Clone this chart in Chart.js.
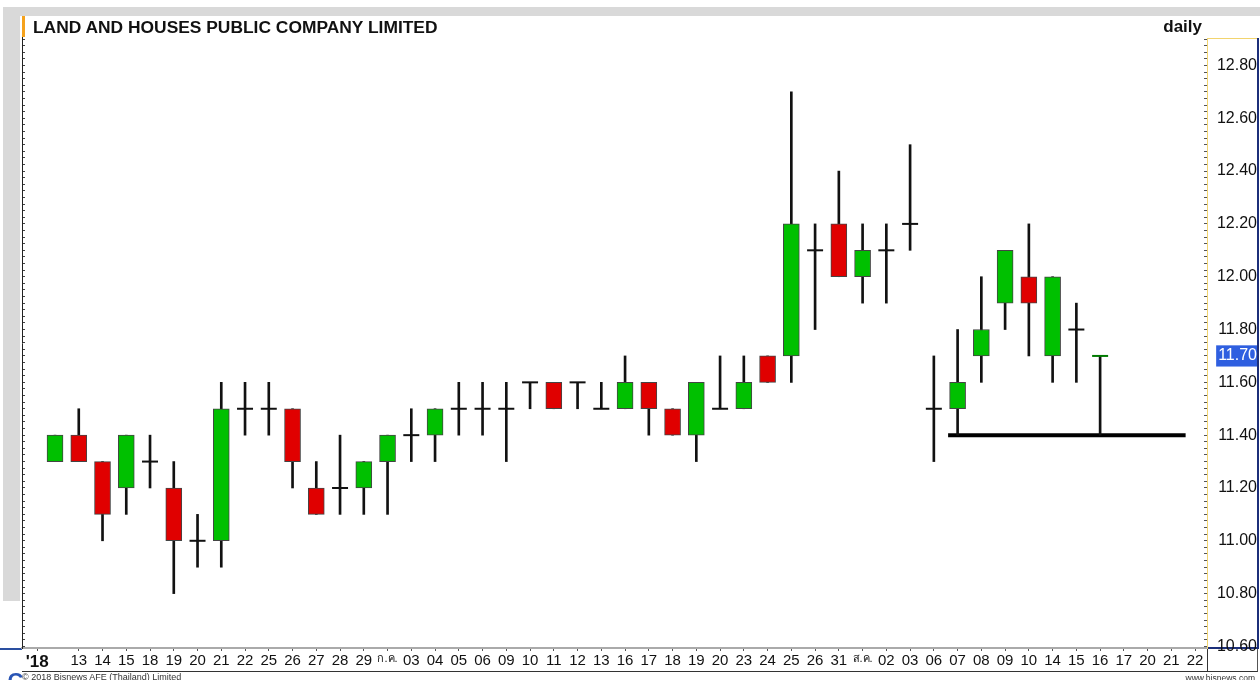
<!DOCTYPE html>
<html>
<head>
<meta charset="utf-8">
<script src="https://cdn.jsdelivr.net/npm/chart.js@4.4.0/dist/chart.umd.min.js"></script>
<style>
  html, body { margin: 0; padding: 0; background: #fff; overflow: hidden; }
  #wrap { position: relative; width: 1260px; height: 680px; font-family: "Liberation Sans", Arial, sans-serif; }
  #wrap div { position: absolute; }
  canvas { position: absolute; left: 0; top: 0; z-index: 1; }
  .band { background: #d9d9d9; }
  .txt { z-index: 2; color: #111; white-space: nowrap; }
</style>
</head>
<body>
<div id="wrap">
  <div class="band" style="left:3px;top:7px;width:1257px;height:9px"></div>
  <div class="band" style="left:3px;top:7px;width:17px;height:594px"></div>
  <div style="left:22px;top:16px;width:1px;height:23px;background:#222"></div>
  <div style="left:22px;top:16px;width:3px;height:21px;background:#f5a21c;z-index:2"></div>
  <div class="txt" style="left:33px;top:17px;font-weight:bold;font-size:17.4px">LAND AND HOUSES PUBLIC COMPANY LIMITED</div>
  <div class="txt" style="right:58px;top:17px;font-weight:bold;font-size:17px">daily</div>
  <div style="left:1207px;top:38px;width:50px;height:1px;background:#f2d46e"></div>
  <div style="left:1257px;top:38px;width:2px;height:611px;background:#1c2f7a"></div>
  <div style="left:1207px;top:647px;width:52px;height:2px;background:#1c2f7a"></div>
  <div style="left:1207px;top:649px;width:49px;height:22px;border-left:1px solid #333;border-right:1px solid #555;border-bottom:1px solid #333"></div>
  <div style="left:22px;top:671px;width:1185px;height:1px;background:#333"></div>
  <div style="left:0;top:648px;width:22px;height:2px;background:#2a4fa0"></div>
  <div class="txt" style="left:-6px;top:668px;font-size:22px;font-weight:bold;color:#2a55b5">LC</div>
  <div class="txt" style="left:22px;top:672px;font-size:9px;color:#333">© 2018 Bisnews AFE (Thailand) Limited</div>
  <div class="txt" style="right:5px;top:673px;font-size:8.5px;color:#333">www.bisnews.com</div>
  <canvas id="chart" width="1260" height="680"></canvas>
</div>
<script>
const tickLabels = ["'18", '13', '14', '15', '18', '19', '20', '21', '22', '25', '26', '27', '28', '29', 'ก.ค.',
  '03', '04', '05', '06', '09', '10', '11', '12', '13', '16', '17', '18', '19', '20', '23', '24', '25', '26', '31',
  'ส.ค.', '02', '03', '06', '07', '08', '09', '10', '14', '15', '16', '17', '20', '21', '22'];

const open = [11.30, 11.40, 11.30, 11.20, 11.30, 11.20, 11.00, 11.00, 11.50, 11.50, 11.50, 11.20, 11.20, 11.20, 11.30,
  11.40, 11.40, 11.50, 11.50, 11.50, 11.60, 11.60, 11.60, 11.50, 11.50, 11.60, 11.50, 11.40, 11.50, 11.50, 11.70,
  11.70, 12.10, 12.20, 12.00, 12.10, 12.20, 11.50, 11.50, 11.70, 11.90, 12.00, 11.70, 11.80, 11.70, null, null, null, null];
const high = [11.40, 11.50, 11.30, 11.40, 11.40, 11.30, 11.10, 11.60, 11.60, 11.60, 11.50, 11.30, 11.40, 11.30, 11.40,
  11.50, 11.50, 11.60, 11.60, 11.60, 11.60, 11.60, 11.60, 11.60, 11.70, 11.60, 11.50, 11.60, 11.70, 11.70, 11.70,
  12.70, 12.20, 12.40, 12.20, 12.20, 12.50, 11.70, 11.80, 12.00, 12.10, 12.20, 12.00, 11.90, 11.70, null, null, null, null];
const low = [11.30, 11.30, 11.00, 11.10, 11.20, 10.80, 10.90, 10.90, 11.40, 11.40, 11.20, 11.10, 11.10, 11.10, 11.10,
  11.30, 11.30, 11.40, 11.40, 11.30, 11.50, 11.50, 11.50, 11.50, 11.50, 11.40, 11.40, 11.30, 11.50, 11.50, 11.60,
  11.60, 11.80, 12.00, 11.90, 11.90, 12.10, 11.30, 11.40, 11.60, 11.80, 11.70, 11.60, 11.60, 11.40, null, null, null, null];
const close = [11.40, 11.30, 11.10, 11.40, 11.30, 11.00, 11.00, 11.50, 11.50, 11.50, 11.30, 11.10, 11.20, 11.30, 11.40,
  11.40, 11.50, 11.50, 11.50, 11.50, 11.60, 11.50, 11.60, 11.50, 11.60, 11.50, 11.40, 11.60, 11.50, 11.60, 11.60,
  12.20, 12.10, 12.00, 12.10, 12.10, 12.20, 11.50, 11.60, 11.80, 12.10, 11.90, 12.00, 11.80, 11.70, null, null, null, null];

const priceTicks = [10.60, 10.80, 11.00, 11.20, 11.40, 11.60, 11.80, 12.00, 12.20, 12.40, 12.60, 12.80];
const lastPrice = 11.70;
const supportLine = [{ x: 37.6, y: 11.40 }, { x: 47.6, y: 11.40 }];

const FONT = '"Liberation Sans", Arial, sans-serif';
const Y_MIN = 10.594, Y_MAX = 12.904;

const days = tickLabels.map((_, i) => i).filter(i => open[i] !== null);
const lastDay = days[days.length - 1];

const wicks = days.map(i => ({ x: i, y: [low[i], high[i]] }));
const bodies = days.filter(i => open[i] !== close[i])
  .map(i => ({ x: i, y: [Math.min(open[i], close[i]), Math.max(open[i], close[i])] }));
const bodyColors = days.filter(i => open[i] !== close[i])
  .map(i => close[i] > open[i] ? '#00c000' : '#e00000');
const dojiDays = days.filter(i => open[i] === close[i]);
const dojis = dojiDays.map(i => ({ x: i, y: close[i] }));
const dojiColors = dojiDays.map(i => i === lastDay ? '#007a00' : '#111');

function minorTicks() {
  const out = [];
  for (let k = Math.ceil(Y_MIN * 40); k <= Math.floor(Y_MAX * 40); k++) out.push({ value: k / 40 });
  return out;
}
const isMajor = v => priceTicks.some(t => Math.abs(t - v) < 1e-6);

new Chart(document.getElementById('chart'), {
  data: {
    datasets: [
      {
        type: 'bar',
        data: bodies,
        backgroundColor: bodyColors,
        borderColor: '#444',
        borderWidth: 1,
        borderSkipped: false,
        barThickness: 16,
        grouped: false,
        order: 0
      },
      {
        type: 'line',
        data: dojis,
        showLine: false,
        pointStyle: 'line',
        pointRadius: 8,
        pointBorderWidth: 2,
        pointBorderColor: dojiColors,
        order: 1
      },
      {
        type: 'bar',
        data: wicks,
        backgroundColor: '#111',
        barThickness: 2,
        grouped: false,
        order: 2
      },
      {
        type: 'line',
        data: supportLine,
        borderColor: '#000',
        borderWidth: 4,
        pointRadius: 0,
        order: 3
      }
    ]
  },
  options: {
    responsive: false,
    animation: false,
    events: [],
    layout: { padding: { left: 22, right: 3, top: 38, bottom: 8 } },
    plugins: {
      legend: { display: false },
      tooltip: { enabled: false }
    },
    scales: {
      x: {
        type: 'linear',
        offset: false,
        min: -1.39,
        max: 48.5,
        afterFit: s => { s.height = 24; },
        afterBuildTicks: axis => {
          axis.ticks = tickLabels.map((_, i) => ({ value: i === 0 ? -0.75 : i }));
        },
        ticks: {
          autoSkip: false,
          maxRotation: 0,
          padding: 1,
          color: '#111',
          callback: (v, i) => tickLabels[i],
          font: ctx => {
            const lbl = tickLabels[ctx.index] || '';
            if (ctx.index === 0) return { family: FONT, size: 17, weight: 'bold' };
            if (!/\d/.test(lbl)) return { family: FONT, size: 11 };
            return { family: FONT, size: 15 };
          }
        },
        grid: { offset: false, drawOnChartArea: false, tickLength: 3, color: '#555' },
        border: { color: '#aaa', width: 2 }
      },
      y: {
        position: 'right',
        min: Y_MIN,
        max: Y_MAX,
        afterFit: s => { s.width = 50; },
        afterBuildTicks: axis => { axis.ticks = minorTicks(); },
        ticks: {
          autoSkip: false,
          crossAlign: 'far',
          padding: 11,
          font: { family: FONT, size: 16 },
          color: ctx => ctx.tick.value === lastPrice ? '#fff' : '#111',
          showLabelBackdrop: ctx => ctx.tick.value === lastPrice,
          backdropColor: '#2f5fe0',
          backdropPadding: { x: 2, y: 1 },
          callback: v => (isMajor(v) || v === lastPrice) ? v.toFixed(2) : ''
        },
        grid: { drawOnChartArea: false, tickLength: -3, color: '#555' },
        border: { color: '#f2d46e', width: 1 }
      },
      yl: {
        position: 'left',
        min: Y_MIN,
        max: Y_MAX,
        afterFit: s => { s.width = 0; },
        afterBuildTicks: axis => { axis.ticks = minorTicks(); },
        ticks: { display: false },
        grid: { drawOnChartArea: false, tickLength: -3, color: '#444' },
        border: { color: '#222', width: 1 }
      }
    }
  }
});
</script>
</body>
</html>
